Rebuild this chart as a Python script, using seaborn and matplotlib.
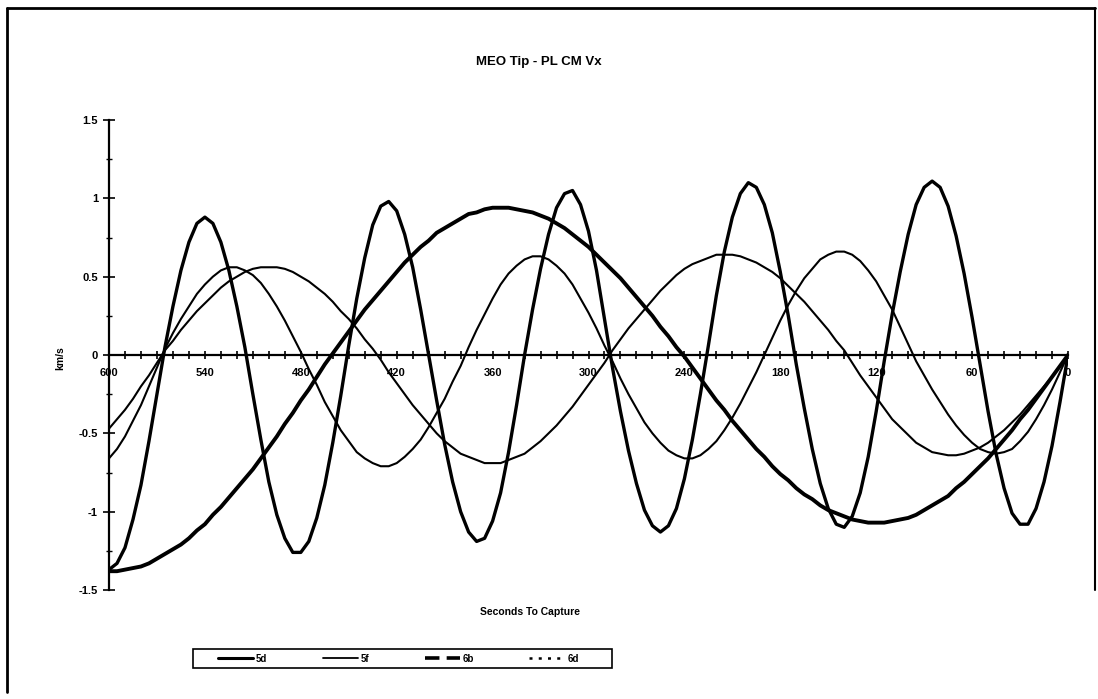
import numpy as np
import pandas as pd
import matplotlib
matplotlib.use("Agg")
import matplotlib.pyplot as plt
from matplotlib.lines import Line2D
from matplotlib.patches import Rectangle
from matplotlib.ticker import MultipleLocator
import seaborn as sns

# ---------------- data ----------------
seconds = list(range(600, -1, -5))

v_5d = [-1.37, -1.33, -1.23, -1.05, -0.83, -0.55, -0.25, 0.05, 0.31, 0.54,
        0.72, 0.84, 0.88, 0.84, 0.72, 0.54, 0.31, 0.05, -0.25, -0.54,
        -0.81, -1.02, -1.17, -1.26, -1.26, -1.19, -1.04, -0.83, -0.56, -0.26,
        0.06, 0.36, 0.62, 0.83, 0.95, 0.98, 0.92, 0.77, 0.56, 0.29,
        0.00, -0.29, -0.57, -0.81, -1.00, -1.13, -1.19, -1.17, -1.06, -0.88,
        -0.62, -0.32, 0.00, 0.29, 0.55, 0.77, 0.94, 1.03, 1.05, 0.96,
        0.79, 0.54, 0.23, -0.08, -0.36, -0.61, -0.82, -0.99, -1.09, -1.13,
        -1.09, -0.98, -0.79, -0.54, -0.25, 0.06, 0.38, 0.66, 0.88, 1.03,
        1.10, 1.07, 0.96, 0.78, 0.53, 0.25, -0.06, -0.34, -0.60, -0.82,
        -0.98, -1.08, -1.10, -1.03, -0.88, -0.65, -0.36, -0.04, 0.26, 0.53,
        0.77, 0.96, 1.07, 1.11, 1.07, 0.95, 0.76, 0.52, 0.24, -0.06,
        -0.36, -0.63, -0.85, -1.01, -1.08, -1.08, -0.98, -0.81, -0.58, -0.30,
        0.00]

v_5f = [-0.47, -0.41, -0.35, -0.28, -0.20, -0.13, -0.05, 0.03, 0.09, 0.16,
        0.22, 0.28, 0.33, 0.38, 0.43, 0.47, 0.50, 0.53, 0.55, 0.56,
        0.56, 0.56, 0.55, 0.53, 0.50, 0.47, 0.43, 0.39, 0.34, 0.28,
        0.23, 0.17, 0.10, 0.04, -0.03, -0.11, -0.18, -0.25, -0.32, -0.38,
        -0.44, -0.50, -0.55, -0.59, -0.63, -0.65, -0.67, -0.69, -0.69, -0.69,
        -0.67, -0.65, -0.63, -0.59, -0.55, -0.50, -0.45, -0.39, -0.33, -0.26,
        -0.19, -0.12, -0.05, 0.03, 0.10, 0.17, 0.23, 0.29, 0.35, 0.41,
        0.46, 0.51, 0.55, 0.58, 0.60, 0.62, 0.64, 0.64, 0.64, 0.63,
        0.61, 0.59, 0.56, 0.53, 0.49, 0.44, 0.39, 0.34, 0.28, 0.22,
        0.16, 0.09, 0.03, -0.05, -0.13, -0.20, -0.27, -0.34, -0.41, -0.46,
        -0.51, -0.56, -0.59, -0.62, -0.63, -0.64, -0.64, -0.63, -0.61, -0.59,
        -0.56, -0.52, -0.48, -0.43, -0.38, -0.32, -0.26, -0.20, -0.14, -0.07,
        0.00]

v_6b = [-1.38, -1.38, -1.37, -1.36, -1.35, -1.33, -1.30, -1.27, -1.24, -1.21,
        -1.17, -1.12, -1.08, -1.02, -0.97, -0.91, -0.85, -0.79, -0.73, -0.66,
        -0.59, -0.52, -0.44, -0.37, -0.29, -0.22, -0.14, -0.06, 0.01, 0.08,
        0.15, 0.22, 0.29, 0.35, 0.41, 0.47, 0.53, 0.59, 0.64, 0.69,
        0.73, 0.78, 0.81, 0.84, 0.87, 0.90, 0.91, 0.93, 0.94, 0.94,
        0.94, 0.93, 0.92, 0.91, 0.89, 0.87, 0.84, 0.81, 0.77, 0.73,
        0.69, 0.64, 0.59, 0.54, 0.49, 0.43, 0.37, 0.31, 0.25, 0.18,
        0.12, 0.05, -0.01, -0.08, -0.15, -0.22, -0.29, -0.35, -0.42, -0.48,
        -0.54, -0.60, -0.65, -0.71, -0.76, -0.80, -0.85, -0.89, -0.92, -0.96,
        -0.99, -1.01, -1.03, -1.05, -1.06, -1.07, -1.07, -1.07, -1.06, -1.05,
        -1.04, -1.02, -0.99, -0.96, -0.93, -0.90, -0.85, -0.81, -0.76, -0.71,
        -0.66, -0.60, -0.54, -0.48, -0.41, -0.35, -0.28, -0.21, -0.14, -0.07,
        0.00]

v_6d = [-0.66, -0.60, -0.52, -0.42, -0.32, -0.20, -0.08, 0.04, 0.14, 0.23,
        0.31, 0.39, 0.45, 0.50, 0.54, 0.56, 0.56, 0.54, 0.51, 0.46,
        0.39, 0.31, 0.22, 0.12, 0.02, -0.09, -0.19, -0.30, -0.39, -0.48,
        -0.55, -0.62, -0.66, -0.69, -0.71, -0.71, -0.69, -0.65, -0.60, -0.54,
        -0.46, -0.37, -0.28, -0.17, -0.07, 0.05, 0.16, 0.26, 0.36, 0.45,
        0.52, 0.57, 0.61, 0.63, 0.63, 0.61, 0.57, 0.52, 0.45, 0.36,
        0.27, 0.17, 0.06, -0.04, -0.15, -0.25, -0.34, -0.43, -0.50, -0.56,
        -0.61, -0.64, -0.66, -0.66, -0.64, -0.60, -0.55, -0.48, -0.40, -0.31,
        -0.21, -0.11, 0.00, 0.11, 0.22, 0.32, 0.41, 0.49, 0.55, 0.61,
        0.64, 0.66, 0.66, 0.64, 0.60, 0.54, 0.47, 0.38, 0.29, 0.18,
        0.07, -0.04, -0.13, -0.22, -0.30, -0.38, -0.45, -0.51, -0.56, -0.60,
        -0.62, -0.63, -0.62, -0.60, -0.55, -0.49, -0.41, -0.32, -0.22, -0.11,
        0.00]

series_names = ["5d", "5f", "6b", "6d"]
x_ticks = [600, 540, 480, 420, 360, 300, 240, 180, 120, 60, 0]
y_ticks = [-1.5, -1, -0.5, 0, 0.5, 1, 1.5]

title = "MEO Tip - PL CM Vx"
x_label = "Seconds To Capture"
y_label = "km/s"

# ---------------- drawing ----------------
sns.set_theme(style="white")
plt.rcParams["font.family"] = ["Liberation Sans", "DejaVu Sans"]
plt.rcParams["font.weight"] = "bold"
plt.rcParams["text.color"] = "black"

fig = plt.figure(figsize=(10.98, 6.99), dpi=100)
ax = fig.add_axes([109 / 1098, 1 - 590 / 699, (1068 - 109) / 1098, (590 - 120) / 699])

df = pd.DataFrame({
    "t": seconds * 4,
    "v": v_5d + v_5f + v_6b + v_6d,
    "s": sum([[n] * len(seconds) for n in series_names], []),
})

widths = {"5d": 2.4, "5f": 1.5, "6b": 2.8, "6d": 1.5}
for name in series_names:
    sub = df[df["s"] == name]
    sns.lineplot(data=sub, x="t", y="v", ax=ax, color="black",
                 linewidth=widths[name], legend=False, errorbar=None)

ax.set_xlim(600, 0)
ax.set_ylim(-1.5, 1.5)
ax.set_xlabel("")
ax.set_ylabel("")

for side in ["top", "right"]:
    ax.spines[side].set_visible(False)
ax.spines["left"].set_color("black")
ax.spines["left"].set_linewidth(1.6)
ax.spines["bottom"].set_color("black")
ax.spines["bottom"].set_linewidth(1.6)
ax.spines["bottom"].set_position(("data", 0))

ax.set_xticks(x_ticks)
ax.set_xticklabels([str(v) for v in x_ticks])
ax.xaxis.set_minor_locator(MultipleLocator(10))
ax.set_yticks(y_ticks)
ax.set_yticklabels(["-1.5", "-1", "-0.5", "0", "0.5", "1", "1.5"])
ax.yaxis.set_minor_locator(MultipleLocator(0.25))

ax.tick_params(axis="x", which="both", direction="inout", length=6, width=1.2,
               colors="black", labelsize=8, pad=6, bottom=True)
ax.tick_params(axis="y", which="major", direction="inout", length=8, width=1.2,
               colors="black", labelsize=8, pad=4, left=True)
ax.tick_params(axis="y", which="minor", direction="inout", length=4, width=1.0,
               colors="black", left=True)
for lab in ax.get_xticklabels() + ax.get_yticklabels():
    lab.set_fontweight("bold")
    lab.set_color("black")
ax.grid(False)

fig.text(539 / 1098, 1 - 62 / 699, title, ha="center", va="center",
         fontsize=9.5, fontweight="bold", color="black")
fig.text(530 / 1098, 1 - 612 / 699, x_label, ha="center", va="center",
         fontsize=7.5, fontweight="bold", color="black")
fig.text(60 / 1098, 1 - 358 / 699, y_label, ha="center", va="center",
         rotation=90, fontsize=7.5, fontweight="bold", color="black")

handles = [
    Line2D([], [], color="black", linewidth=2.2, linestyle="-"),
    Line2D([], [], color="black", linewidth=1.3, linestyle="-"),
    Line2D([], [], color="black", linewidth=2.6, linestyle=(0, (4, 2))),
    Line2D([], [], color="black", linewidth=1.8, linestyle=(0, (1.2, 2.5))),
]
leg = fig.legend(handles, series_names, loc="center left", ncol=4,
                 bbox_to_anchor=(218 / 1098, 1 - 658.5 / 699),
                 frameon=False, prop={"size": 7, "weight": "bold"},
                 handlelength=3.6, handletextpad=0.3, columnspacing=5.7,
                 borderpad=0, borderaxespad=0)
for txt in leg.get_texts():
    txt.set_color("black")

# legend box
fig.add_artist(Rectangle((193 / 1098, 1 - 668 / 699), (612 - 193) / 1098, 19 / 699,
                         transform=fig.transFigure, fill=False,
                         edgecolor="black", linewidth=1.2))

# outer chart frame
fig.add_artist(Line2D([7 / 1098, 1095 / 1098], [1 - 8 / 699, 1 - 8 / 699],
                      transform=fig.transFigure, color="black", linewidth=2))
fig.add_artist(Line2D([7 / 1098, 7 / 1098], [1 - 8 / 699, 1 - 692 / 699],
                      transform=fig.transFigure, color="black", linewidth=2))
fig.add_artist(Line2D([1095 / 1098, 1095 / 1098], [1 - 8 / 699, 1 - 590 / 699],
                      transform=fig.transFigure, color="black", linewidth=1.5))

fig.savefig("out.png", dpi=100, facecolor="white")
